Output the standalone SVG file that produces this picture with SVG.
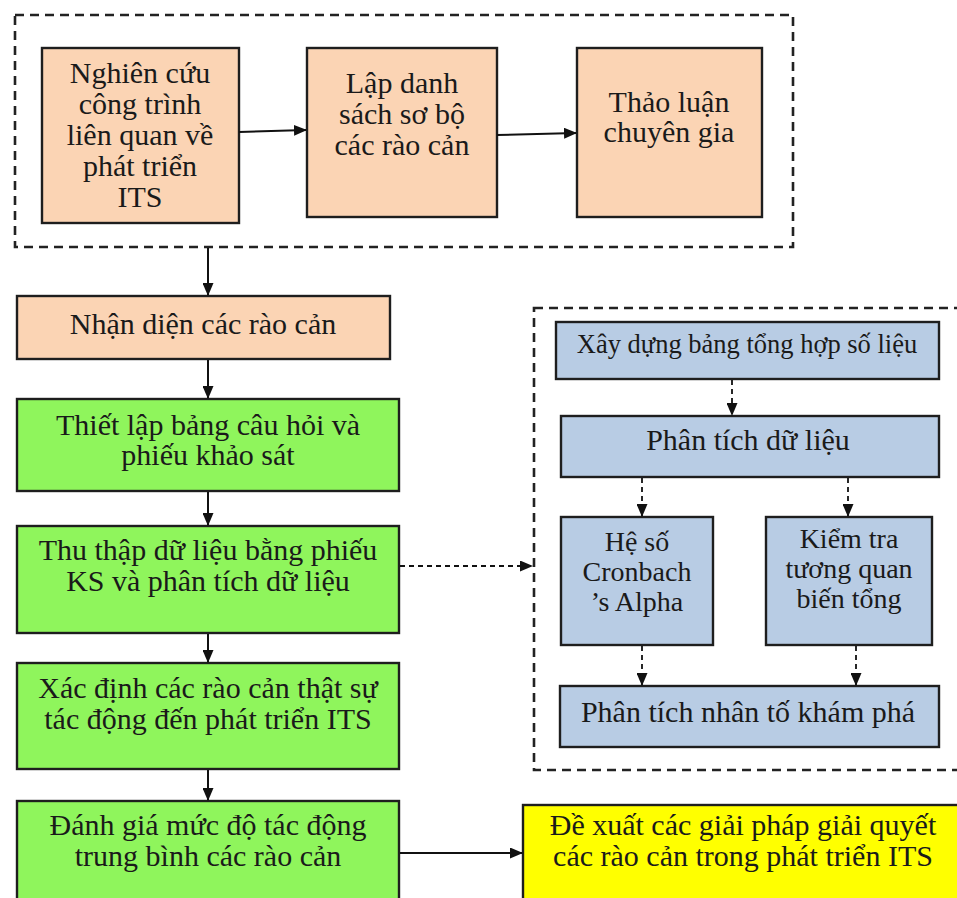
<svg xmlns="http://www.w3.org/2000/svg" width="957" height="898" viewBox="0 0 957 898">
<defs>
<style>
.box{stroke:#1e1e1e;stroke-width:2.4}
.peach{fill:#FBD4B4}
.green{fill:#8FF55C}
.blue{fill:#B8CCE4}
.yellow{fill:#FFFF00}
.frame{fill:none;stroke:#222;stroke-width:2.6;stroke-dasharray:9 6}
.t{font-family:"Liberation Serif","Times New Roman",serif;font-size:30px;fill:#1a1a1a;text-anchor:middle}
.s{font-size:28px}
.xs{font-size:26.5px}
.c{fill:none;stroke:#111;stroke-width:2}
.d{fill:none;stroke:#111;stroke-width:1.8;stroke-dasharray:5 4}
</style>
<marker id="ah" markerWidth="13" markerHeight="11" refX="12" refY="5.5" orient="auto" markerUnits="userSpaceOnUse">
<path d="M0,0 L13,5.5 L0,11 Z" fill="#111"/>
</marker>
</defs>
<rect width="957" height="898" fill="#fff"/>
<g id="frame-top"><rect class="frame" x="15" y="15" width="778" height="232"/></g>
<g id="frame-right"><rect class="frame" x="534" y="308" width="440" height="462"/></g>

<g id="n1"><rect class="box peach" x="42" y="48" width="197" height="175"/>
<text class="t" x="140" y="83">Nghiên cứu</text>
<text class="t" x="140" y="114">công trình</text>
<text class="t" x="140" y="145">liên quan về</text>
<text class="t" x="140" y="176">phát triển</text>
<text class="t" x="140" y="207">ITS</text></g>

<g id="n2"><rect class="box peach" x="307" y="48" width="190" height="169"/>
<text class="t" x="402" y="93">Lập danh</text>
<text class="t" x="402" y="124">sách sơ bộ</text>
<text class="t" x="402" y="155">các rào cản</text></g>

<g id="n3"><rect class="box peach" x="577" y="48" width="185" height="169"/>
<text class="t" x="669" y="112">Thảo luận</text>
<text class="t" x="669" y="142">chuyên gia</text></g>

<g id="n4"><rect class="box peach" x="17" y="296" width="373" height="63"/>
<text class="t" x="203" y="334">Nhận diện các rào cản</text></g>

<g id="n5"><rect class="box green" x="17" y="399" width="382" height="92"/>
<text class="t" x="208" y="435">Thiết lập bảng câu hỏi và</text>
<text class="t" x="208" y="465">phiếu khảo sát</text></g>

<g id="n6"><rect class="box green" x="17" y="526" width="382" height="107"/>
<text class="t" x="208" y="560">Thu thập dữ liệu bằng phiếu</text>
<text class="t" x="208" y="591">KS và phân tích dữ liệu</text></g>

<g id="n7"><rect class="box green" x="17" y="663" width="382" height="106"/>
<text class="t" x="208" y="698">Xác định các rào cản thật sự</text>
<text class="t" x="208" y="729">tác động đến phát triển ITS</text></g>

<g id="n8"><rect class="box green" x="17" y="801" width="382" height="110"/>
<text class="t" x="208" y="835">Đánh giá mức độ tác động</text>
<text class="t" x="208" y="866">trung bình các rào cản</text></g>

<g id="n9"><rect class="box yellow" x="523" y="805" width="450" height="110"/>
<text class="t" x="743" y="835">Đề xuất các giải pháp giải quyết</text>
<text class="t" x="743" y="866">các rào cản trong phát triển ITS</text></g>

<g id="n10"><rect class="box blue" x="556" y="322" width="383" height="57"/>
<text class="t xs" x="747" y="353">Xây dựng bảng tổng hợp số liệu</text></g>

<g id="n11"><rect class="box blue" x="561" y="416" width="378" height="61"/>
<text class="t" x="748" y="450">Phân tích dữ liệu</text></g>

<g id="n12"><rect class="box blue" x="561" y="517" width="152" height="128"/>
<text class="t s" x="637" y="551">Hệ số</text>
<text class="t s" x="637" y="581">Cronbach</text>
<text class="t s" x="637" y="611">’s Alpha</text></g>

<g id="n13"><rect class="box blue" x="766" y="517" width="166" height="128"/>
<text class="t s" x="849" y="548">Kiểm tra</text>
<text class="t s" x="849" y="578">tương quan</text>
<text class="t s" x="849" y="608">biến tổng</text></g>

<g id="n14"><rect class="box blue" x="560" y="686" width="379" height="61"/>
<text class="t" x="748" y="722">Phân tích nhân tố khám phá</text></g>

<g id="connectors">
<line class="c" x1="239" y1="132" x2="306" y2="130" marker-end="url(#ah)"/>
<line class="c" x1="497" y1="135" x2="576" y2="133" marker-end="url(#ah)"/>
<line class="c" x1="208" y1="248" x2="208" y2="295" marker-end="url(#ah)"/>
<line class="c" x1="208" y1="360" x2="208" y2="398" marker-end="url(#ah)"/>
<line class="c" x1="208" y1="492" x2="208" y2="525" marker-end="url(#ah)"/>
<line class="c" x1="208" y1="634" x2="208" y2="662" marker-end="url(#ah)"/>
<line class="c" x1="208" y1="770" x2="208" y2="800" marker-end="url(#ah)"/>
<line class="c" x1="400" y1="853" x2="522" y2="853" marker-end="url(#ah)"/>
<line class="d" x1="400" y1="566" x2="532" y2="566" marker-end="url(#ah)"/>
<line class="d" x1="732" y1="380" x2="732" y2="415" marker-end="url(#ah)"/>
<line class="d" x1="642" y1="478" x2="642" y2="516" marker-end="url(#ah)"/>
<line class="d" x1="848" y1="478" x2="848" y2="516" marker-end="url(#ah)"/>
<line class="d" x1="642" y1="646" x2="642" y2="685" marker-end="url(#ah)"/>
<line class="d" x1="856" y1="646" x2="856" y2="685" marker-end="url(#ah)"/>
</g>
</svg>
